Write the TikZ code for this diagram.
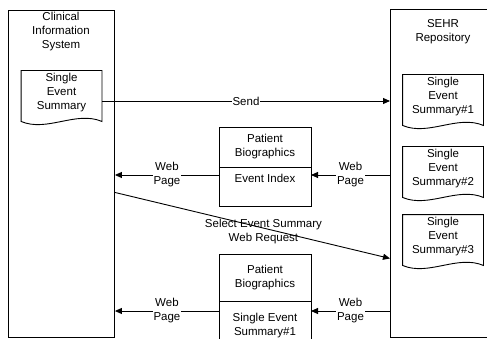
\documentclass[tikz,border=0pt]{standalone}
\usepackage{fontspec}
\setmainfont{Liberation Sans}
\usetikzlibrary{positioning,arrows.meta}
\newcommand{\docedge}[1]{%
  \draw (#1.north west) -- (#1.north east) -- ([yshift=-6pt]#1.south east)
    .. controls +(-26pt,11pt) and +(26pt,-11pt) .. ([yshift=-6pt]#1.south west) -- cycle;}

\begin{document}
\begin{tikzpicture}[x=1pt, y=-1pt, font=\fontsize{11.5}{14}\selectfont, line width=0.9pt,
    box/.style={draw, minimum width=92pt, inner sep=0pt, outer sep=0pt, align=center},
    docnode/.style={minimum width=80pt, minimum height=44pt, inner sep=0pt, align=center},
    arr/.style={-{Triangle[length=7pt,width=6pt]}},
    lbl/.style={fill=white, inner sep=1pt, align=center}]
  \path[use as bounding box] (0,0) rectangle (487,339);
  \clip (0,0) rectangle (487,339);
  % the two systems
  \node[draw, anchor=north west, minimum width=106pt, minimum height=327pt] (cis) at (8,10) {};
  \node[draw, anchor=north west, minimum width=106pt, minimum height=328pt] (sehr) at (390,9) {};
  \node[align=center] (cistitle) at (61,32) {Clinical\\Information\\System};
  \node[align=center] (sehrtitle) at (443,32) {SEHR\\Repository};
  % documents
  \node[docnode] (cisdoc) at (61.5,93) {Single\\Event\\Summary};
  \node[docnode] (doc1) at (443,97) {Single\\Event\\Summary\#1};
  \node[docnode] (doc2) at (443,169) {Single\\Event\\Summary\#2};
  \node[docnode] (doc3) at (443,237) {Single\\Event\\Summary\#3};
  \foreach \d in {cisdoc,doc1,doc2,doc3} \docedge{\d};
  % web pages
  \node[box, minimum height=40pt] (bio1) at (265,147) {Patient\\Biographics};
  \node[box, below=0pt of bio1, text height=16pt, text depth=23pt] (idx1) {Event Index};
  \node[box, minimum height=47pt] (bio2) at (265,277.5) {Patient\\Biographics};
  \node[box, below=0pt of bio2, minimum height=50pt] (ses2) {Single Event\\Summary\#1};
  % connectors
  \coordinate (sendfrom) at ([yshift=-8pt]cisdoc.east);
  \draw[arr] (sendfrom) -- (sendfrom -| sehr.west) node[lbl, midway] {Send};
  \coordinate (pg1l) at ([yshift=-8pt]idx1.north west);
  \coordinate (pg1r) at ([yshift=-8pt]idx1.north east);
  \draw[arr] (pg1l) -- (pg1l -| cis.east) node[lbl, midway] {Web\\Page};
  \draw[arr] (pg1r -| sehr.west) -- (pg1r) node[lbl, midway] {Web\\Page};
  \draw[arr] ([yshift=-18.5pt]cis.east) -- ([yshift=-85pt]sehr.west)
    node[pos=0.54, yshift=-3pt, align=center] {Select Event Summary\\Web Request};
  \coordinate (pg2l) at ([yshift=-10pt]ses2.north west);
  \coordinate (pg2r) at ([yshift=-10pt]ses2.north east);
  \draw[arr] (pg2l) -- (pg2l -| cis.east) node[lbl, midway] {Web\\Page};
  \draw[arr] (pg2r -| sehr.west) -- (pg2r) node[lbl, midway] {Web\\Page};
\end{tikzpicture}
\end{document}
